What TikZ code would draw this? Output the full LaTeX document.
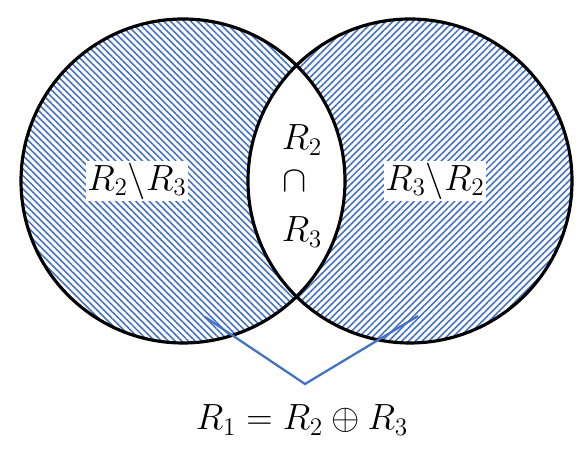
\documentclass[tikz,border=0pt]{standalone}
\usepackage{amsmath,amssymb}
\usepackage{tikz}
\usepackage{xcolor}
\usetikzlibrary{patterns.meta}
\definecolor{hatchblue}{HTML}{4472C4}

\begin{document}
\begin{tikzpicture}[
  setline/.style={line width=1.8pt, black},
  lbl/.style={fill=white, inner sep=1pt, font=\fontsize{21}{25}\selectfont},
  brace/.style={line width=1.3pt, hatchblue}
]
\useasboundingbox (0,0) rectangle (11.68,9.36);
\coordinate (cL) at (3.66,5.74);
\coordinate (cR) at (8.20,5.74);
% hatched sets
\path[pattern={Lines[angle=-45, distance=2.7pt, line width=0.9pt]}, pattern color=hatchblue]
  (cL) circle (3.24);
\path[pattern={Lines[angle=45, distance=2.7pt, line width=0.9pt]}, pattern color=hatchblue]
  (cR) circle (3.24);
% intersection left blank
\begin{scope}
  \clip (cL) circle (3.24);
  \fill[white] (cR) circle (3.24);
\end{scope}
\draw[setline] (cL) circle (3.24);
\draw[setline] (cR) circle (3.24);

\node[lbl] (diffL) at (2.74,5.74) {$R_2\backslash R_3$};
\node[lbl] (diffR) at (8.70,5.74) {$R_3\backslash R_2$};
\node[lbl, fill=none] (interA) at (6.04,6.56) {$R_2$};
\node[lbl, fill=none] (interB) at (5.90,5.74) {$\cap$};
\node[lbl, fill=none] (interC) at (6.04,4.72) {$R_3$};
\node[lbl, fill=none] (sym) at (6.04,0.96) {$R_1 = R_2 \oplus R_3$};

\coordinate (endL) at (4.10,3.02);
\coordinate (apex) at (6.10,1.68);
\coordinate (endR) at (8.36,3.04);
\draw[brace] (endL) -- (apex) -- (endR);
\end{tikzpicture}
\end{document}
